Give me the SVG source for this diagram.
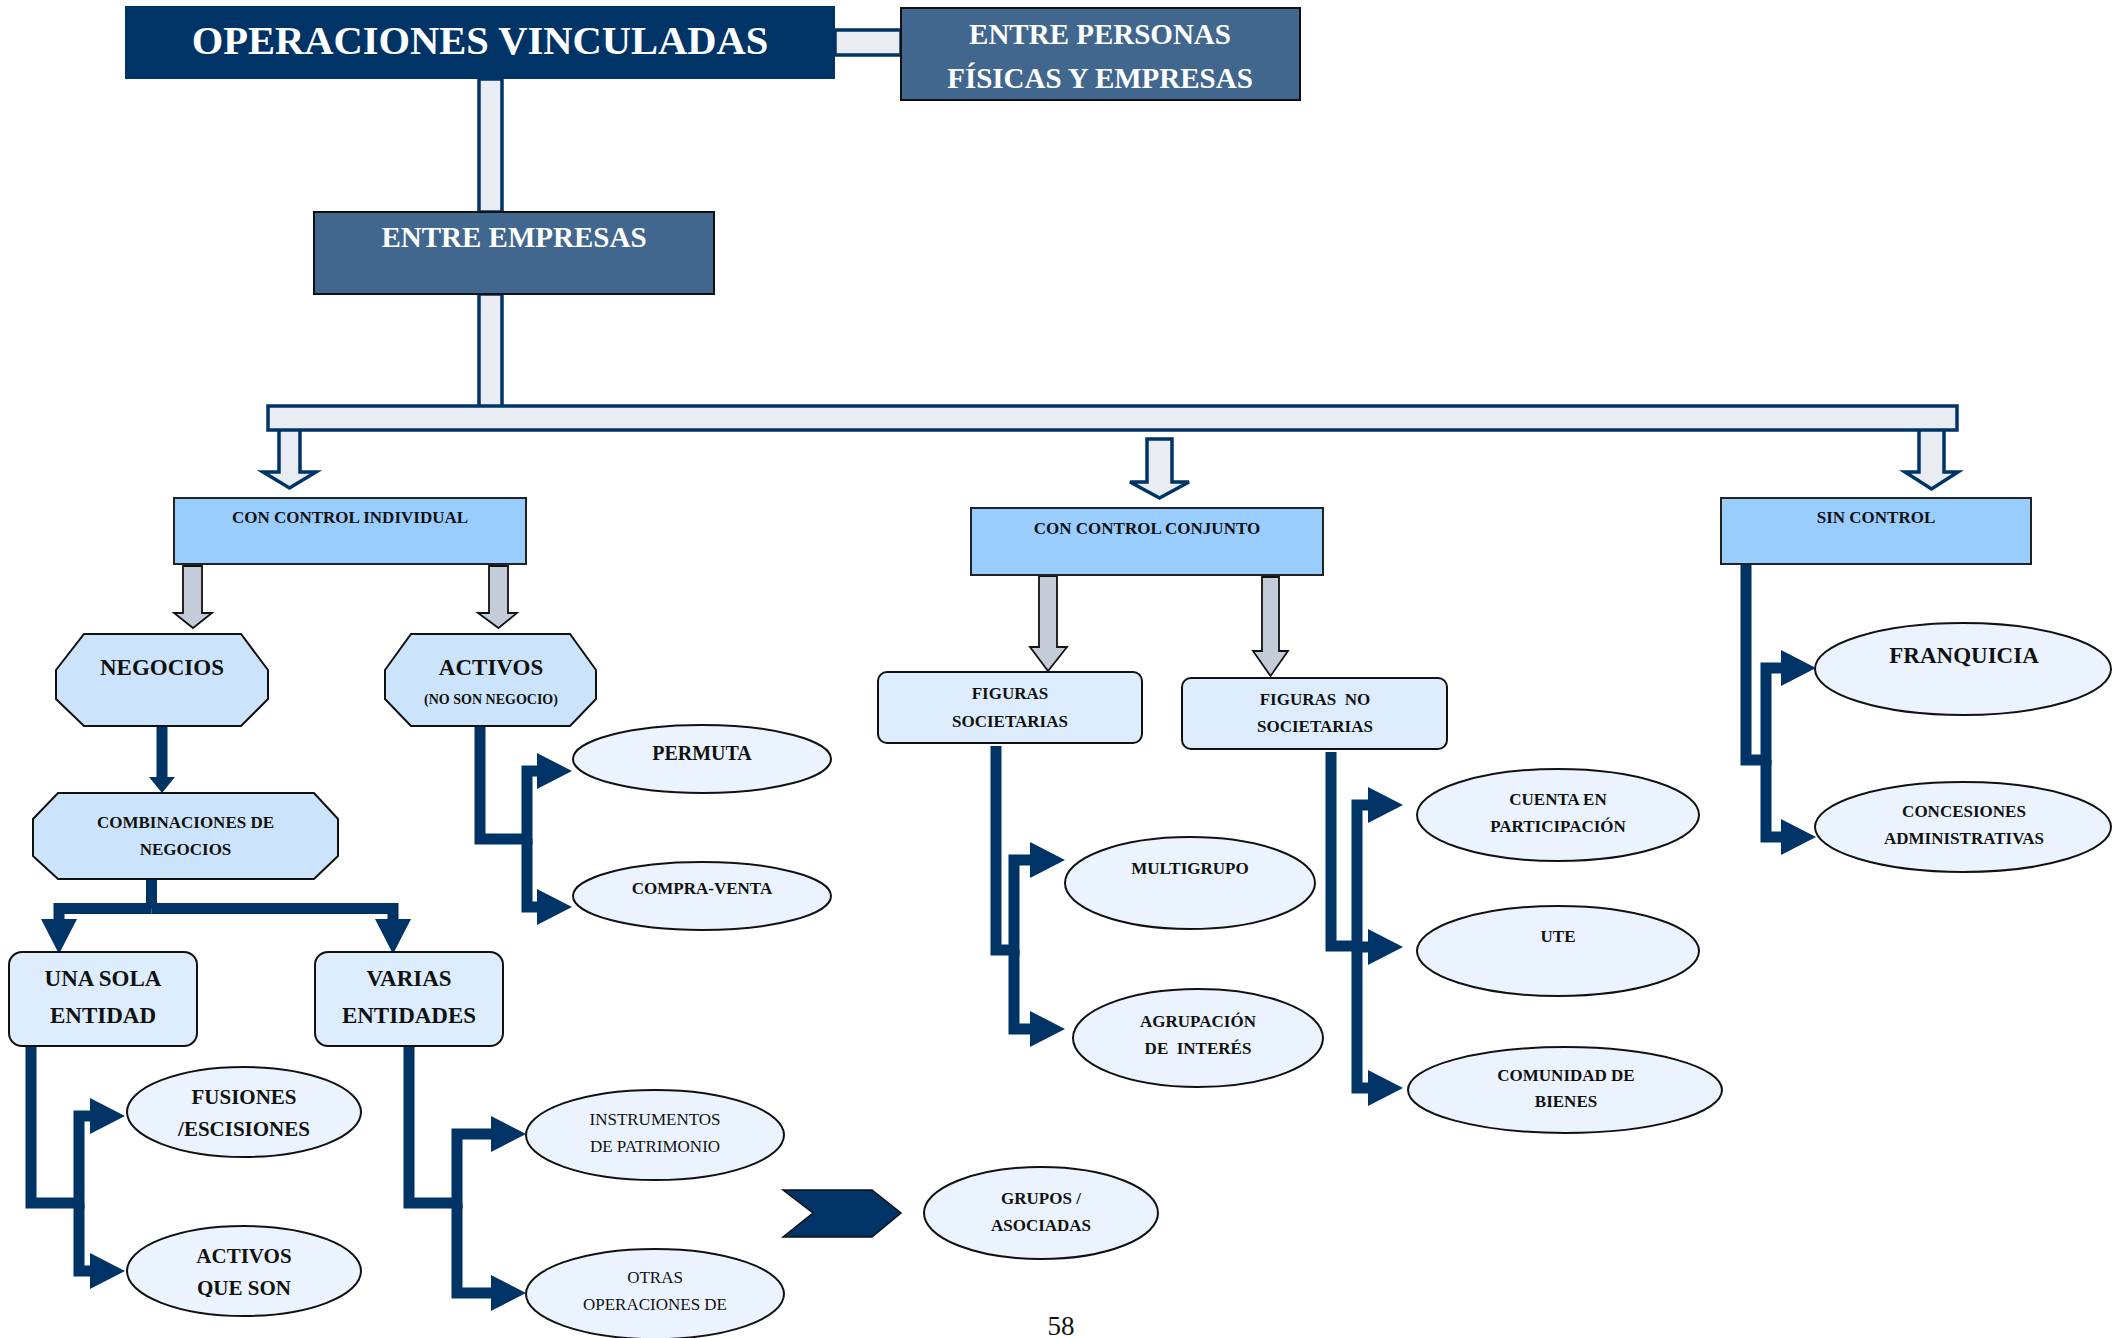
<svg xmlns="http://www.w3.org/2000/svg" width="2128" height="1338" viewBox="0 0 2128 1338">
  <style>
    .t{font-family:"Liberation Serif","Times New Roman",serif;font-weight:bold;text-anchor:middle;fill:#111;white-space:pre}
    .w{fill:#fff}
    .reg{font-weight:normal}
    .navy{fill:none;stroke:#003366;stroke-width:11;stroke-linejoin:miter}
    .ell{fill:#EAF3FE;stroke:#111;stroke-width:2}
    .oct{fill:#CCE4FB;stroke:#111;stroke-width:2}
    .rr{fill:#DDEDFD;stroke:#111;stroke-width:2}
    .lvl{fill:#99CCFF;stroke:#222;stroke-width:2}
    .steel{fill:#41678E;stroke:#111;stroke-width:2}
    .hollow{fill:#E9EDF3;stroke:#003366;stroke-width:3.5}
    .gray{fill:#C3CCD8;stroke:#111;stroke-width:1.8}
  </style>
  <defs>
    <marker id="head" viewBox="0 0 35 36" markerWidth="35" markerHeight="36" refX="0" refY="18" orient="auto" markerUnits="userSpaceOnUse">
      <path d="M0,0 L35,18 L0,36 z" fill="#003366"/>
    </marker>
    <marker id="headSm" viewBox="0 0 16 26" markerWidth="16" markerHeight="26" refX="0" refY="13" orient="auto" markerUnits="userSpaceOnUse">
      <path d="M0,0 L16,13 L0,26 z" fill="#003366"/>
    </marker>
    <clipPath id="cutQ"><rect x="127" y="1226" width="235" height="71"/></clipPath>
  </defs>
  <rect width="2128" height="1338" fill="#fff"/>

  <!-- connectors -->
  <g id="connectors">
    <!-- light double-line bars of the upper level -->
    <rect class="hollow" x="835" y="30" width="66" height="25"/>
    <rect class="hollow" x="479" y="79" width="23" height="133"/>
    <rect class="hollow" x="479" y="294" width="23" height="114"/>
    <polygon class="hollow" points="279,428 300,428 300,472 316,472 289.5,488 263,472 279,472"/>
    <polygon class="hollow" points="1147,439 1172,439 1172,482 1189,482 1159.5,498 1130,482 1147,482"/>
    <polygon class="hollow" points="1919,428 1944,428 1944,472 1958,472 1931.5,489 1905,472 1919,472"/>
    <rect class="hollow" x="268" y="406" width="1689" height="24" stroke-width="4"/>

    <!-- grey block arrows -->
    <polygon class="gray" points="183,566 202,566 202,613 212,613 193,628 174,613 183,613"/>
    <polygon class="gray" points="489,566 508,566 508,613 517,613 498.5,628 478,613 489,613"/>
    <polygon class="gray" points="1039,576 1057,576 1057,647 1067,647 1048,671 1030,647 1039,647"/>
    <polygon class="gray" points="1262,577 1279,577 1279,651 1288,651 1270.5,676 1253,651 1262,651"/>

    <!-- negocios to combinaciones -->
    <path class="navy" d="M162,726 V777" stroke-width="12" marker-end="url(#headSm)"/>
    <!-- combinaciones split -->
    <path class="navy" d="M151.5,879 V908.5"/>
    <path class="navy" d="M151.5,908.5 H59 V919" marker-end="url(#head)"/>
    <path class="navy" d="M151.5,908.5 H393 V919" marker-end="url(#head)"/>

    <!-- brackets -->
    <path class="navy" d="M480,726 V839 H527 V771 H537" marker-end="url(#head)"/>
    <path class="navy" d="M527,839 V907 H537" marker-end="url(#head)"/>

    <path class="navy" d="M31,1046 V1203 H79 V1116 H90" marker-end="url(#head)"/>
    <path class="navy" d="M79,1203 V1271 H90" marker-end="url(#head)"/>

    <path class="navy" d="M409,1046 V1203 H457 V1134 H491" marker-end="url(#head)"/>
    <path class="navy" d="M457,1203 V1293 H491" marker-end="url(#head)"/>

    <path class="navy" d="M996,746 V950 H1014 V860 H1030" marker-end="url(#head)"/>
    <path class="navy" d="M1014,950 V1029 H1030" marker-end="url(#head)"/>

    <path class="navy" d="M1331,752 V946 H1357 V805 H1368" marker-end="url(#head)"/>
    <path class="navy" d="M1357,946 V1088 H1368" marker-end="url(#head)"/>
    <path class="navy" d="M1357,947 H1368" marker-end="url(#head)"/>

    <path class="navy" d="M1746,564 V760 H1766 V668 H1781" marker-end="url(#head)"/>
    <path class="navy" d="M1766,760 V837 H1781" marker-end="url(#head)"/>

    <!-- chevron pointing at the groups node -->
    <polygon points="783,1190 872,1190 901,1213 872,1237 783,1237 813,1213" fill="#003366" stroke="#111" stroke-width="1.5"/>
  </g>

  <!-- upper level -->
  <g id="n-operaciones">
    <rect x="125" y="6" width="710" height="73" fill="#003366"/>
    <text class="t w" x="480" y="54" font-size="40.5">OPERACIONES VINCULADAS</text>
  </g>
  <g id="n-personas">
    <rect class="steel" x="901" y="8" width="399" height="92"/>
    <text class="t w" x="1100" y="44" font-size="29">ENTRE PERSONAS</text>
    <text class="t w" x="1100" y="88" font-size="29">FÍSICAS Y EMPRESAS</text>
  </g>
  <g id="n-empresas">
    <rect class="steel" x="314" y="212" width="400" height="82"/>
    <text class="t w" x="514" y="247" font-size="29">ENTRE EMPRESAS</text>
  </g>

  <!-- control level -->
  <g id="n-individual">
    <rect class="lvl" x="174" y="498" width="352" height="66"/>
    <text class="t" x="350" y="523" font-size="17">CON CONTROL INDIVIDUAL</text>
  </g>
  <g id="n-conjunto">
    <rect class="lvl" x="971" y="508" width="352" height="67"/>
    <text class="t" x="1147" y="534" font-size="17">CON CONTROL CONJUNTO</text>
  </g>
  <g id="n-sincontrol">
    <rect class="lvl" x="1721" y="498" width="310" height="66"/>
    <text class="t" x="1876" y="523" font-size="17">SIN CONTROL</text>
  </g>

  <!-- individual control branch -->
  <g id="n-negocios">
    <polygon class="oct" points="84,634 241,634 268,670 268,699 241,726 84,726 56,699 56,670"/>
    <text class="t" x="162" y="675" font-size="23">NEGOCIOS</text>
  </g>
  <g id="n-activos">
    <polygon class="oct" points="411,634 570,634 596,670 596,699 570,726 411,726 385,699 385,670"/>
    <text class="t" x="491" y="675" font-size="23">ACTIVOS</text>
    <text class="t" x="491" y="704" font-size="14">(NO SON NEGOCIO)</text>
  </g>
  <g id="n-combinaciones">
    <polygon class="oct" points="58,793 314,793 338,819 338,856 314,879 58,879 33,856 33,819"/>
    <text class="t" x="185.5" y="828" font-size="17">COMBINACIONES DE</text>
    <text class="t" x="185.5" y="855" font-size="17">NEGOCIOS</text>
  </g>
  <g id="n-permuta">
    <ellipse class="ell" cx="702" cy="759" rx="129" ry="34"/>
    <text class="t" x="702" y="760" font-size="20">PERMUTA</text>
  </g>
  <g id="n-compraventa">
    <ellipse class="ell" cx="702" cy="896" rx="129" ry="34"/>
    <text class="t" x="702" y="894" font-size="17">COMPRA-VENTA</text>
  </g>
  <g id="n-unasola">
    <rect class="rr" x="9" y="952" width="188" height="94" rx="13"/>
    <text class="t" x="103" y="986" font-size="23">UNA SOLA</text>
    <text class="t" x="103" y="1023" font-size="23">ENTIDAD</text>
  </g>
  <g id="n-varias">
    <rect class="rr" x="315" y="952" width="188" height="94" rx="13"/>
    <text class="t" x="409" y="986" font-size="23">VARIAS</text>
    <text class="t" x="409" y="1023" font-size="23">ENTIDADES</text>
  </g>
  <g id="n-fusiones">
    <ellipse class="ell" cx="244" cy="1112" rx="117" ry="45"/>
    <text class="t" x="244" y="1104" font-size="21">FUSIONES</text>
    <text class="t" x="244" y="1136" font-size="21">/ESCISIONES</text>
  </g>
  <g id="n-activosnegocio">
    <ellipse class="ell" cx="244" cy="1271" rx="117" ry="45"/>
    <g clip-path="url(#cutQ)">
      <text class="t" x="244" y="1263" font-size="21">ACTIVOS</text>
      <text class="t" x="244" y="1295" font-size="21">QUE SON</text>
    </g>
  </g>
  <g id="n-instrumentos">
    <ellipse class="ell" cx="655" cy="1135" rx="129" ry="45"/>
    <text class="t reg" x="655" y="1125" font-size="17">INSTRUMENTOS</text>
    <text class="t reg" x="655" y="1152" font-size="17">DE PATRIMONIO</text>
  </g>
  <g id="n-otras">
    <ellipse class="ell" cx="655" cy="1294" rx="129" ry="45"/>
    <text class="t reg" x="655" y="1283" font-size="17">OTRAS</text>
    <text class="t reg" x="655" y="1310" font-size="17">OPERACIONES DE</text>
  </g>
  <g id="n-grupos">
    <ellipse class="ell" cx="1041" cy="1213" rx="117" ry="46"/>
    <text class="t" x="1041" y="1204" font-size="17">GRUPOS /</text>
    <text class="t" x="1041" y="1231" font-size="17">ASOCIADAS</text>
  </g>

  <!-- joint control branch -->
  <g id="n-societarias">
    <rect class="rr" x="878" y="672" width="264" height="71" rx="9"/>
    <text class="t" x="1010" y="699" font-size="17">FIGURAS</text>
    <text class="t" x="1010" y="727" font-size="17">SOCIETARIAS</text>
  </g>
  <g id="n-nosocietarias">
    <rect class="rr" x="1182" y="678" width="265" height="71" rx="9"/>
    <text class="t" x="1315" y="705" font-size="17">FIGURAS  NO</text>
    <text class="t" x="1315" y="732" font-size="17">SOCIETARIAS</text>
  </g>
  <g id="n-multigrupo">
    <ellipse class="ell" cx="1190" cy="883" rx="125" ry="46"/>
    <text class="t" x="1190" y="874" font-size="17">MULTIGRUPO</text>
  </g>
  <g id="n-agrupacion">
    <ellipse class="ell" cx="1198" cy="1038" rx="125" ry="49"/>
    <text class="t" x="1198" y="1027" font-size="17">AGRUPACIÓN</text>
    <text class="t" x="1198" y="1054" font-size="17">DE  INTERÉS</text>
  </g>
  <g id="n-cuenta">
    <ellipse class="ell" cx="1558" cy="815" rx="141" ry="46"/>
    <text class="t" x="1558" y="805" font-size="17">CUENTA EN</text>
    <text class="t" x="1558" y="832" font-size="17">PARTICIPACIÓN</text>
  </g>
  <g id="n-ute">
    <ellipse class="ell" cx="1558" cy="951" rx="141" ry="45"/>
    <text class="t" x="1558" y="942" font-size="17">UTE</text>
  </g>
  <g id="n-comunidad">
    <ellipse class="ell" cx="1565" cy="1090" rx="157" ry="43"/>
    <text class="t" x="1566" y="1081" font-size="17">COMUNIDAD DE</text>
    <text class="t" x="1566" y="1107" font-size="17">BIENES</text>
  </g>

  <!-- no control branch -->
  <g id="n-franquicia">
    <ellipse class="ell" cx="1963" cy="669" rx="148" ry="46"/>
    <text class="t" x="1964" y="663" font-size="23">FRANQUICIA</text>
  </g>
  <g id="n-concesiones">
    <ellipse class="ell" cx="1963" cy="827" rx="148" ry="45"/>
    <text class="t" x="1964" y="817" font-size="17">CONCESIONES</text>
    <text class="t" x="1964" y="844" font-size="17">ADMINISTRATIVAS</text>
  </g>

  <!-- page number -->
  <text class="t reg" x="1061" y="1335" font-size="27" fill="#222">58</text>
</svg>
